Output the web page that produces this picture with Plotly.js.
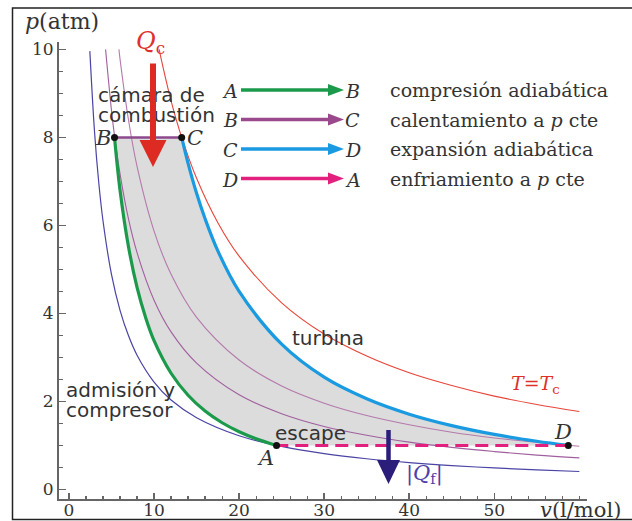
<!DOCTYPE html>
<html>
<head>
<meta charset="utf-8">
<script src="https://cdn.plot.ly/plotly-3.0.1.min.js"></script>
<style>html,body{margin:0;padding:0;background:#fff;}#chart{width:632px;height:521px;}</style>
</head>
<body>
<div id="chart"></div>
<script>
// ---- data ----
// cycle processes (v in l/mol, p in atm)
const vAB = [24.4, 22, 20, 18, 16, 14, 12, 10, 9, 8, 7, 6, 5.35];
const pAB = [1.0, 1.152, 1.312, 1.515, 1.78, 2.14, 2.64, 3.38, 3.91, 4.59, 5.51, 6.80, 8.0];
const vBC = [5.35, 13.25];
const pBC = [8, 8];
const vCD = [13.25, 14, 15, 16, 17.5, 20, 25, 30, 35, 40, 45, 50, 55, 58.7];
const pCD = [8, 7.41, 6.73, 6.15, 5.42, 4.50, 3.30, 2.55, 2.06, 1.71, 1.45, 1.25, 1.095, 1.0];
const vDA = [58.7, 24.4];
const pDA = [1, 1];
// isotherms
const vTA = [2.45, 3, 3.5, 4, 5, 6, 7, 8, 10, 12, 15, 20, 25, 30, 35, 40, 45, 50, 55, 60];
const pTA = [9.96, 8.13, 6.97, 6.10, 4.88, 4.07, 3.49, 3.05, 2.44, 2.03, 1.63, 1.22, 0.976, 0.813, 0.697, 0.61, 0.542, 0.488, 0.444, 0.407];
const vTB = [4.3, 5, 5.375, 6, 7, 8, 10, 12, 15, 20, 25, 30, 35, 40, 45, 50, 55, 60];
const pTB = [10, 8.6, 8, 7.17, 6.14, 5.38, 4.3, 3.58, 2.87, 2.15, 1.72, 1.43, 1.23, 1.075, 0.956, 0.86, 0.78, 0.717];
const vTD = [5.87, 6, 7, 8, 10, 12, 15, 20, 25, 30, 35, 40, 45, 50, 55, 60];
const pTD = [10, 9.78, 8.39, 7.34, 5.87, 4.89, 3.91, 2.94, 2.35, 1.96, 1.68, 1.47, 1.30, 1.17, 1.07, 0.98];
const vTC = [10.6, 11, 12, 13.25, 15, 17.5, 20, 25, 30, 35, 40, 45, 50, 55, 60];
const pTC = [10, 9.64, 8.83, 8, 7.07, 6.06, 5.3, 4.24, 3.53, 3.03, 2.65, 2.36, 2.12, 1.93, 1.77];
// states
const stateNames = ['A', 'B', 'C', 'D'];
const stateV = [24.4, 5.35, 13.25, 58.7];
const stateP = [1, 8, 8, 1];
// ticks
const xTickVals = [0, 10, 20, 30, 40, 50];
const xTickText = ['0', '10', '20', '30', '40', '50'];
const yTickVals = [0, 2, 4, 6, 8, 10];
const yTickText = ['0', '2', '4', '6', '8', '10'];
// legend of processes
const legFrom = ['A', 'B', 'C', 'D'];
const legTo = ['B', 'C', 'D', 'A'];
const legText = ['compresión adiabática', 'calentamiento a <i>p</i> cte', 'expansión adiabática', 'enfriamiento a <i>p</i> cte'];
const legColors = ['#1c9a4c', '#9a4a8c', '#1a9ae0', '#e2207e'];

// ---- layout helpers (pixel -> paper) ----
const L = 59, R = 587, T = 42, BT = 499;
const W = R - L, H = BT - T;
const px = x => (x - L) / W;
const py = y => (BT - y) / H;

const SERIF = 'DejaVu Serif, Liberation Serif, serif';
const SANS = 'DejaVu Sans, Liberation Sans, sans-serif';
const TXT = '#333333';

const traces = [];
// gray cycle fill
traces.push({
  x: [].concat(vAB, vBC, vCD, vDA), y: [].concat(pAB, pBC, pCD, pDA),
  type: 'scatter', mode: 'lines', fill: 'toself', fillcolor: '#dcdcdc',
  line: {width: 0, color: 'rgba(0,0,0,0)'}, hoverinfo: 'skip'
});
// isotherms
traces.push({x: vTA, y: pTA, type: 'scatter', mode: 'lines', line: {color: '#4a44a4', width: 1.2, shape: 'spline'}});
traces.push({x: vTB, y: pTB, type: 'scatter', mode: 'lines', line: {color: '#a0609e', width: 1.1, shape: 'spline'}});
traces.push({x: vTD, y: pTD, type: 'scatter', mode: 'lines', line: {color: '#b47aac', width: 1.1, shape: 'spline'}});
traces.push({x: vTC, y: pTC, type: 'scatter', mode: 'lines', line: {color: '#e8453a', width: 1.1, shape: 'spline'}});
// processes
traces.push({x: vAB, y: pAB, type: 'scatter', mode: 'lines', line: {color: legColors[0], width: 3.2, shape: 'spline'}});
traces.push({x: vBC, y: pBC, type: 'scatter', mode: 'lines', line: {color: '#8c4a8c', width: 2.5}});
traces.push({x: vCD, y: pCD, type: 'scatter', mode: 'lines', line: {color: legColors[2], width: 3.2, shape: 'spline'}});
traces.push({x: vDA, y: pDA, type: 'scatter', mode: 'lines', line: {color: legColors[3], width: 3, dash: '13px,7px'}});
// state points
traces.push({x: stateV, y: stateP, type: 'scatter', mode: 'markers', marker: {color: '#111', size: 7}});

const shapes = [];
// outer frame (left, top, bottom)
shapes.push({type: 'path', xref: 'paper', yref: 'paper',
  path: `M ${px(634)} ${py(8)} L ${px(12.5)} ${py(8)} L ${px(12.5)} ${py(519.5)} L ${px(634)} ${py(519.5)}`,
  line: {color: '#222', width: 1.5}});
// navy heat arrow Qf
shapes.push({type: 'line', xref: 'paper', yref: 'paper', x0: px(388.5), x1: px(388.5), y0: py(430), y1: py(462),
  line: {color: '#2a1e7a', width: 4.5}});
shapes.push({type: 'path', xref: 'paper', yref: 'paper',
  path: `M ${px(377)} ${py(460)} L ${px(400)} ${py(460)} L ${px(388.5)} ${py(484)} Z`,
  fillcolor: '#2a1e7a', line: {width: 0}});

const legRows = [90, 119.5, 149, 178.5];
const annotations = [];
legFrom.forEach((f, i) => {
  const y = legRows[i];
  shapes.push({type: 'line', xref: 'paper', yref: 'paper', x0: px(241), x1: px(331), y0: py(y), y1: py(y),
    line: {color: legColors[i], width: 3.5}});
  shapes.push({type: 'path', xref: 'paper', yref: 'paper',
    path: `M ${px(328)} ${py(y - 6)} L ${px(344)} ${py(y)} L ${px(328)} ${py(y + 6)} Z`,
    fillcolor: legColors[i], line: {width: 0}});
  annotations.push({xref: 'paper', yref: 'paper', x: px(240), y: py(y + 1), xanchor: 'right', yanchor: 'middle',
    text: '<i>' + f + '</i>', showarrow: false, font: {family: SERIF, size: 19, color: TXT}});
  annotations.push({xref: 'paper', yref: 'paper', x: px(343), y: py(y + 1), xanchor: 'left', yanchor: 'middle',
    text: '<i>' + legTo[i] + '</i>', showarrow: false, font: {family: SERIF, size: 19, color: TXT}});
  annotations.push({xref: 'paper', yref: 'paper', x: px(388), y: py(y), xanchor: 'left', yanchor: 'middle',
    text: legText[i], showarrow: false, font: {family: SERIF, size: 19, color: TXT}});
});

function lab(text, x, y, font, anchor) {
  annotations.push({xref: 'paper', yref: 'paper', x: px(x), y: py(y), xanchor: anchor || 'center', yanchor: 'middle',
    text: text, showarrow: false, font: font});
}
const sansF = {family: SANS, size: 20, color: TXT};
lab('cámara de', 96, 95, sansF, 'left');
lab('combustión', 96, 115, sansF, 'left');
lab('turbina', 290, 338, sansF, 'left');
lab('admisión y', 64, 390, sansF, 'left');
lab('compresor', 64, 410, sansF, 'left');
lab('escape', 273, 433, sansF, 'left');
const ptF = {family: SERIF, size: 21, color: TXT};
lab('<i>B</i>', 103, 138, ptF);
lab('<i>C</i>', 195, 138, ptF);
lab('<i>A</i>', 265, 458, ptF);
lab('<i>D</i>', 563, 432, ptF);
lab('<i>T</i>=<i>T</i><sub>c</sub>', 535, 384, {family: SERIF, size: 19, color: '#e0302a'});
lab('<i>Q</i><sub>c</sub>', 150, 43, {family: SERIF, size: 24, color: '#e0302a'});
lab('|<i>Q</i><sub>f</sub>|', 424, 474, {family: SERIF, size: 21, color: '#5040a8'});
lab('<i>p</i>(atm)', 62, 21, {family: SERIF, size: 22, color: TXT});
lab('<i>v</i>(l/mol)', 538, 510, {family: SERIF, size: 21, color: TXT}, 'left');
// red heat arrow Qc (drawn after the texts so it lies on top of them)
annotations.push({xref: 'paper', yref: 'paper', x: px(153), y: py(167), axref: 'pixel', ayref: 'pixel',
  ax: 0, ay: -105, text: '', showarrow: true, arrowhead: 2, arrowsize: 0.9, arrowwidth: 6,
  arrowcolor: '#dd2a22', standoff: 0, startstandoff: 0});

const layout = {
  width: 632, height: 521, autosize: false,
  margin: {l: L, r: 632 - R, t: T, b: 521 - BT, pad: 0},
  paper_bgcolor: '#fff', plot_bgcolor: '#fff', showlegend: false,
  xaxis: {range: [-1.176, 60.9], showgrid: false, zeroline: false, showline: true, linecolor: '#666', linewidth: 2,
    tickmode: 'array', tickvals: xTickVals, ticktext: xTickText, ticks: 'inside', ticklen: 6, tickwidth: 1.5, tickcolor: '#666',
    minor: {tickmode: 'linear', tick0: 0, dtick: 2, ticks: 'inside', ticklen: 3, tickwidth: 1.2, tickcolor: '#666'},
    ticklabelstandoff: -5,
    tickfont: {family: SERIF, size: 17, color: TXT}, fixedrange: true},
  yaxis: {range: [-0.218, 10.168], showgrid: false, zeroline: false, showline: true, linecolor: '#666', linewidth: 2,
    tickmode: 'array', tickvals: yTickVals, ticktext: yTickText, ticks: 'inside', ticklen: 7, tickwidth: 1.5, tickcolor: '#666',
    minor: {tickmode: 'linear', tick0: 0, dtick: 0.5, ticks: 'inside', ticklen: 4, tickwidth: 1.2, tickcolor: '#666'},
    tickfont: {family: SERIF, size: 17, color: TXT}, fixedrange: true},
  shapes: shapes, annotations: annotations
};
Plotly.newPlot('chart', traces, layout, {displayModeBar: false, staticPlot: true});
</script>
</body>
</html>
